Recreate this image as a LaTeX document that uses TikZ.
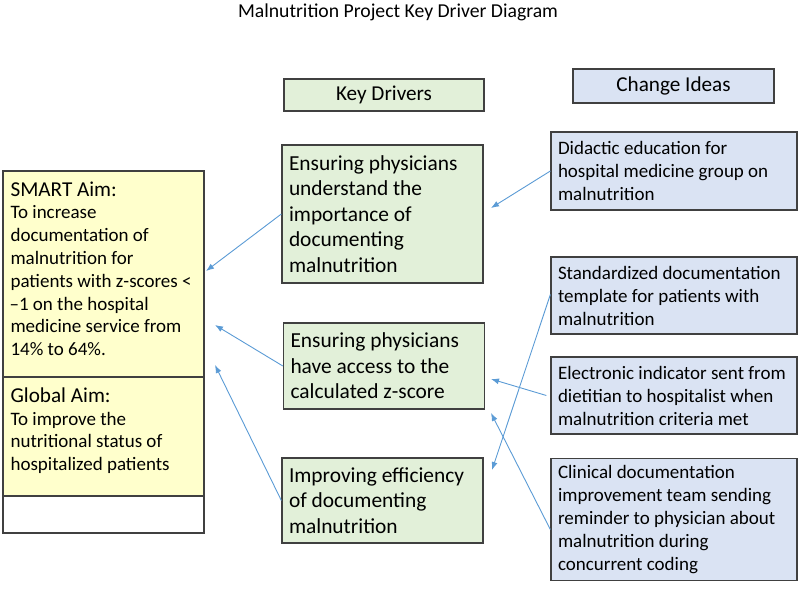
\documentclass[tikz,border=0pt]{standalone}
\usepackage{fontspec}
\setmainfont{Carlito}
\usetikzlibrary{arrows.meta}
\setlength{\parindent}{0pt}

\definecolor{aimyellow}{HTML}{FFFFCC}
\definecolor{drivergreen}{HTML}{E2F0D9}
\definecolor{ideablue}{HTML}{DAE3F3}
\definecolor{edgegray}{HTML}{404040}
\definecolor{linkblue}{HTML}{5B9BD5}

\tikzset{
	box/.style={draw=edgegray,line width=1.3pt,rectangle,inner sep=7pt,align=left,execute at begin node={\spaceskip=0pt\xspaceskip=0pt}},
	aimbox/.style={box,fill=aimyellow,minimum width=201pt},
	aimtext/.style={anchor=north west,align=left,inner xsep=8pt,inner ysep=11pt,font=\fontsize{19}{22.8}\selectfont},
	driverbox/.style={box,fill=drivergreen,minimum width=201pt,text width=187pt,font=\fontsize{21.4}{25.5}\selectfont},
	ideabox/.style={box,fill=ideablue,minimum width=246pt,text width=232pt,font=\fontsize{19}{23}\selectfont},
	header/.style={box,align=center,font=\fontsize{21.2}{24}\selectfont},
	link/.style={draw=linkblue,line width=0.9pt,-{Latex[length=8pt,width=6pt]}}
}

\begin{document}
\begin{tikzpicture}[x=1pt,y=-1pt]

		\useasboundingbox (0,0) rectangle (800,598);

		\node (title) at (398,12) [font=\fontsize{19.7}{22}\selectfont] {Malnutrition Project Key Driver Diagram};

		% aim column
		\node (smart)  at (103.5,274)   [aimbox,minimum height=206pt] {};
		\node (global) at (103.5,436.5) [aimbox,minimum height=119pt] {};
		\node (blank)  at (103.5,514.5) [box,minimum width=201pt,minimum height=37pt] {};

		\node (smarttext) at (smart.north west) [aimtext]
			{{\fontsize{21.2}{25}\selectfont SMART Aim:}\\To increase\\documentation of\\malnutrition for\\patients with z-scores <\\\hspace{-1pt}--1 on the hospital\\medicine service from\\14\% to 64\%.};
		\node (globaltext) at (global.north west) [aimtext]
			{{\fontsize{21.2}{25}\selectfont Global Aim:}\\To improve the\\nutritional status of\\hospitalized patients};

		% key drivers
		\node (kdhead) at (384,95)    [header,fill=drivergreen,minimum width=200pt,minimum height=32pt] {Key Drivers};
		\node (kd1)    at (382.5,214) [driverbox,minimum height=138pt] {Ensuring physicians\\understand the\\importance of\\documenting\\malnutrition};
		\node (kd2)    at (384,366)   [driverbox,minimum height=86pt] {Ensuring physicians\\have access to the\\calculated z-score};
		\node (kd3)    at (382.5,500.5) [driverbox,minimum height=85pt] {Improving efficiency\\of documenting\\malnutrition};

		% change ideas
		\node (cihead) at (673.5,86)  [header,fill=ideablue,minimum width=201pt,minimum height=34pt] {Change Ideas};
		\node (ci1)    at (674,171)   [ideabox,minimum height=78pt] {Didactic education for\\hospital medicine group on\\malnutrition};
		\node (ci2)    at (674,295.5) [ideabox,minimum height=77pt] {Standardized documentation\\template for patients with\\malnutrition};
		\node (ci3)    at (674,395.5) [ideabox,minimum height=77pt] {Electronic indicator sent from\\dietitian to hospitalist when\\malnutrition criteria met};
		\node (ci4)    at (674,519.5) [ideabox,minimum height=95pt] {Clinical documentation\\improvement team sending\\reminder to physician about\\malnutrition during\\concurrent coding};

		% arrow ends
		\coordinate (aimin1) at (206,271);
		\coordinate (aimin2) at (215,325);
		\coordinate (aimin3) at (215,365);
		\coordinate (kd1in)  at (491,208);
		\coordinate (kd2in1) at (491,379);
		\coordinate (kd2in2) at (491,413);
		\coordinate (kd3in)  at (492,470);

		\draw[link] (kd1.west) -- (aimin1);
		\draw[link] (kd2.west) -- (aimin2);
		\draw[link] (kd3.west) -- (aimin3);

		\draw[link] (ci1.west) -- (kd1in);
		\draw[link] ([yshift=1pt]ci2.west) -- (kd3in);
		\draw[link] ([xshift=-4pt]ci3.west) -- (kd2in1);
		\draw[link] ([yshift=-10pt]ci4.west) -- (kd2in2);
	\end{tikzpicture}
\end{document}
